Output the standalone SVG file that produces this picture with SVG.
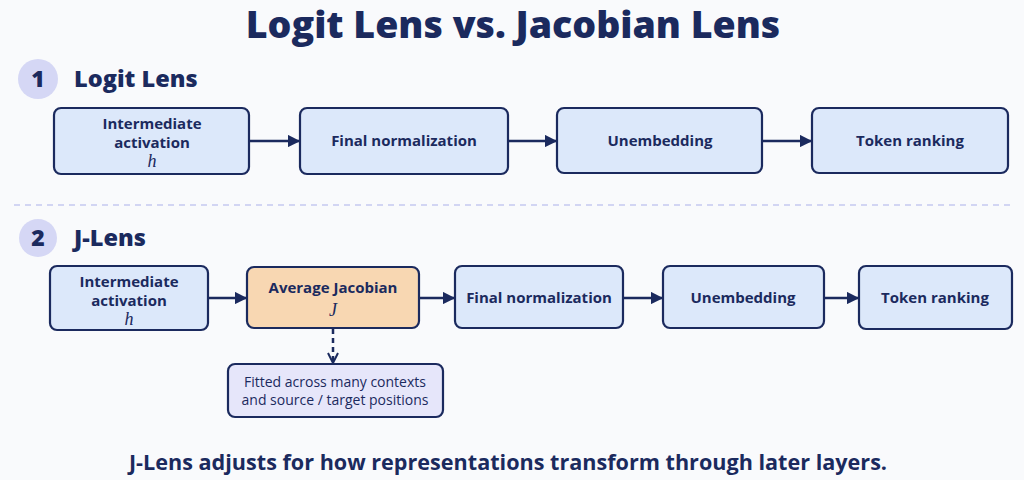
<svg xmlns="http://www.w3.org/2000/svg" width="1024" height="480" viewBox="0 0 1024 480">
<defs>
<marker id="ah" viewBox="0 0 10 10" refX="9" refY="5" markerWidth="5" markerHeight="5" markerUnits="strokeWidth" orient="auto">
<path d="M0,0 L10,5 L0,10 z" fill="#1b2a5e"/>
</marker>
<marker id="chev" viewBox="0 0 10 10" refX="9" refY="5" markerWidth="5" markerHeight="5" markerUnits="strokeWidth" orient="auto">
<path d="M1,1 L9,5 L1,9" fill="none" stroke="#1b2a5e" stroke-width="1.6"/>
</marker>
</defs>
<style>
.bg{fill:#f9fafc}
.box{fill:#dce8fa;stroke:#1b2a5e;stroke-width:2.2}
.orange{fill:#f8d7b2;stroke:#1b2a5e;stroke-width:2.2}
.note{fill:#e6e6fa;stroke:#1b2a5e;stroke-width:2.2}
.lbl{font-family:"Open Sans",Lato,sans-serif;font-weight:700;font-size:15px;fill:#1b2a5e;text-anchor:middle}
.math{font-family:"Liberation Serif","DejaVu Serif",serif;font-style:italic;font-size:18px;fill:#1b2a5e;text-anchor:middle}
.ntxt{font-family:"Open Sans",Lato,sans-serif;font-size:14px;fill:#1b2a5e;text-anchor:middle}
.title{font-family:"Open Sans",Lato,sans-serif;font-weight:800;font-size:37.5px;fill:#1b2a5e;text-anchor:middle}
.sec{font-family:"Open Sans",Lato,sans-serif;font-weight:800;font-size:23.5px;fill:#1b2a5e}
.num{font-family:"Open Sans",Lato,sans-serif;font-weight:800;font-size:23px;fill:#1b2a5e;text-anchor:middle}
.cap{font-family:"Open Sans",Lato,sans-serif;font-weight:700;font-size:21.6px;fill:#1b2a5e;text-anchor:middle}
.conn{stroke:#1b2a5e;stroke-width:2.5;fill:none}
.circ{fill:#d5d7f5}
</style>
<rect class="bg" x="0" y="0" width="1024" height="480"/>
<text class="title" x="513" y="38">Logit Lens vs. Jacobian Lens</text>

<g id="sec1">
<circle class="circ" cx="38" cy="79" r="20"/>
<text class="num" x="38" y="87">1</text>
<text class="sec" x="74" y="87">Logit Lens</text>
</g>

<line x1="14" y1="205" x2="1014" y2="205" stroke="#c5c9f0" stroke-width="1.5" stroke-dasharray="6,5"/>

<g id="sec2">
<circle class="circ" cx="38" cy="238" r="19"/>
<text class="num" x="38" y="246">2</text>
<text class="sec" x="74" y="246">J-Lens</text>
</g>

<g id="connectors">
<line class="conn" x1="249" y1="141" x2="299" y2="141" marker-end="url(#ah)"/>
<line class="conn" x1="508" y1="141" x2="556" y2="141" marker-end="url(#ah)"/>
<line class="conn" x1="762" y1="141" x2="811" y2="141" marker-end="url(#ah)"/>
<line class="conn" x1="208" y1="298" x2="246" y2="298" marker-end="url(#ah)"/>
<line class="conn" x1="419" y1="298" x2="454" y2="298" marker-end="url(#ah)"/>
<line class="conn" x1="623" y1="298" x2="662" y2="298" marker-end="url(#ah)"/>
<line class="conn" x1="824" y1="298" x2="858" y2="298" marker-end="url(#ah)"/>
<line class="conn" x1="333" y1="329" x2="333" y2="363" stroke-width="2" stroke-dasharray="5,4" marker-end="url(#chev)"/>
</g>

<g id="l1-act">
<rect class="box" x="54" y="108" width="195" height="66" rx="7"/>
<text class="lbl" x="152" y="129">Intermediate</text>
<text class="lbl" x="152" y="148">activation</text>
<text class="math" x="152" y="167">h</text>
</g>
<g id="l1-norm">
<rect class="box" x="300" y="108" width="208" height="66" rx="7"/>
<text class="lbl" x="404" y="146">Final normalization</text>
</g>
<g id="l1-unemb">
<rect class="box" x="557" y="108" width="205" height="65" rx="7"/>
<text class="lbl" x="660" y="146">Unembedding</text>
</g>
<g id="l1-rank">
<rect class="box" x="812" y="108" width="196" height="65" rx="7"/>
<text class="lbl" x="910" y="146">Token ranking</text>
</g>

<g id="l2-act">
<rect class="box" x="50" y="266" width="158" height="64" rx="7"/>
<text class="lbl" x="129" y="287">Intermediate</text>
<text class="lbl" x="129" y="306">activation</text>
<text class="math" x="129" y="325">h</text>
</g>
<g id="l2-jac">
<rect class="orange" x="247" y="267" width="172" height="61" rx="7"/>
<text class="lbl" x="333" y="293">Average Jacobian</text>
<text class="math" x="333" y="316">J</text>
</g>
<g id="l2-norm">
<rect class="box" x="455" y="266" width="168" height="62" rx="7"/>
<text class="lbl" x="539" y="303">Final normalization</text>
</g>
<g id="l2-unemb">
<rect class="box" x="663" y="266" width="161" height="62" rx="7"/>
<text class="lbl" x="743" y="303">Unembedding</text>
</g>
<g id="l2-rank">
<rect class="box" x="859" y="266" width="153" height="63" rx="7"/>
<text class="lbl" x="935" y="303">Token ranking</text>
</g>
<g id="note">
<rect class="note" x="228" y="364" width="215" height="53" rx="7"/>
<text class="ntxt" x="335" y="387">Fitted across many contexts</text>
<text class="ntxt" x="335" y="405">and source / target positions</text>
</g>

<text class="cap" x="508" y="470">J-Lens adjusts for how representations transform through later layers.</text>
</svg>
